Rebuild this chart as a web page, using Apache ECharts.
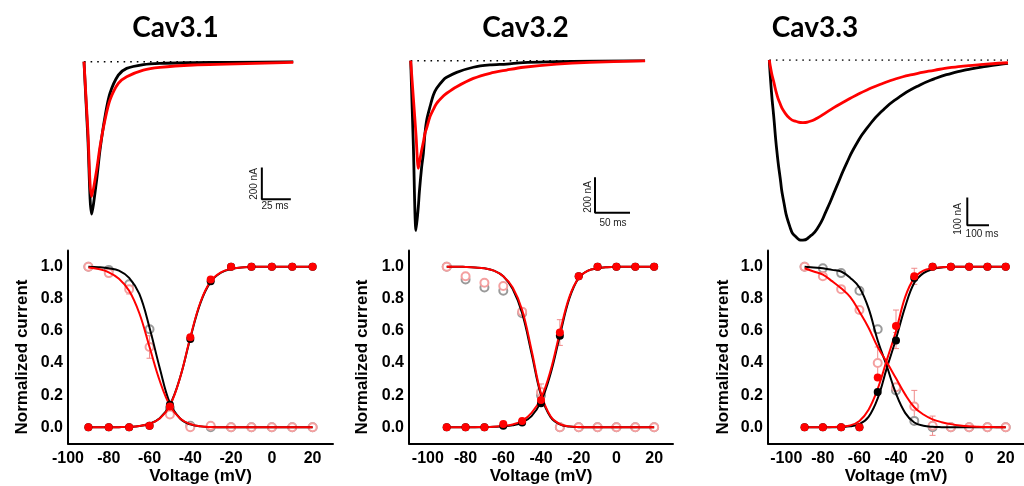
<!DOCTYPE html>
<html>
<head>
<meta charset="utf-8">
<title>Cav3 currents</title>
<script src="https://cdn.jsdelivr.net/npm/echarts@6/dist/echarts.min.js"></script>
<style>
  html, body { margin: 0; padding: 0; background: #fff; }
  #chart { width: 1024px; height: 486px; }
</style>
</head>
<body>
<div id="chart"></div>
<script>
const titles = ['Cav3.1', 'Cav3.2', 'Cav3.3'];

// voltage steps (mV) of the measured points and of the fitted curves
const stepV = [-90, -80, -70, -60, -50, -40, -30, -20, -10, 0, 10, 20];
const fitV = [-90, -85, -80, -75, -70, -65, -60, -55, -50, -45, -40, -35, -30, -25, -20, -15, -10, -5, 0, 5, 10, 15, 20];
const voltTicks = [-100, -80, -60, -40, -20, 0, 20];
const currentTicks = [0, 0.2, 0.4, 0.6, 0.8, 1.0];

// Cav3.1 - activation (filled) / inactivation (open)
const act31Black = [0, 0, 0, 0.01, 0.14, 0.55, 0.91, 1, 1, 1, 1, 1];
const act31Red = [0, 0, 0, 0.01, 0.13, 0.56, 0.92, 1, 1, 1, 1, 1];
const inact31Black = [1.0, 0.98, 0.89, 0.61, 0.12, 0.01, 0, 0, 0, 0, 0, 0];
const inact31Red = [1.0, 0.96, 0.86, 0.5, 0.08, 0, 0.01, 0, 0, 0, 0, 0];
const fitAct31Black = [0, 0, 0, 0.001, 0.003, 0.008, 0.022, 0.057, 0.14, 0.31, 0.555, 0.775, 0.905, 0.962, 0.986, 0.995, 0.998, 1, 1, 1, 1, 1, 1];
const fitAct31Red = [0, 0, 0, 0.001, 0.003, 0.008, 0.022, 0.055, 0.135, 0.31, 0.56, 0.78, 0.91, 0.965, 0.987, 0.995, 0.998, 1, 1, 1, 1, 1, 1];
const fitInact31Black = [1, 0.997, 0.99, 0.975, 0.93, 0.83, 0.62, 0.37, 0.15, 0.055, 0.018, 0.006, 0.002, 0, 0, 0, 0, 0, 0, 0, 0, 0, 0];
const fitInact31Red = [0.995, 0.985, 0.965, 0.925, 0.85, 0.71, 0.5, 0.29, 0.135, 0.055, 0.02, 0.007, 0.002, 0, 0, 0, 0, 0, 0, 0, 0, 0, 0];

// Cav3.2
const act32Black = [0, 0, 0, 0.01, 0.03, 0.15, 0.57, 0.94, 1, 1, 1, 1];
const act32Red = [0, 0, 0, 0.02, 0.04, 0.17, 0.59, 0.94, 1, 1, 1, 1];
const inact32Black = [1.0, 0.92, 0.87, 0.85, 0.71, 0.2, 0, 0, 0, 0, 0, 0];
const inact32Red = [1.0, 0.94, 0.9, 0.88, 0.72, 0.22, 0, 0, 0, 0, 0, 0];
const fitAct32Black = [0, 0, 0, 0, 0.001, 0.003, 0.006, 0.013, 0.03, 0.07, 0.16, 0.33, 0.57, 0.8, 0.93, 0.975, 0.99, 0.997, 1, 1, 1, 1, 1];
const fitAct32Red = [0, 0, 0, 0.001, 0.002, 0.004, 0.008, 0.018, 0.04, 0.09, 0.18, 0.35, 0.59, 0.81, 0.93, 0.975, 0.99, 0.997, 1, 1, 1, 1, 1];
const fitInact32Black = [1, 1, 0.998, 0.995, 0.99, 0.975, 0.94, 0.86, 0.71, 0.46, 0.2, 0.065, 0.018, 0.005, 0.001, 0, 0, 0, 0, 0, 0, 0, 0];
const fitInact32Red = [1, 1, 0.998, 0.995, 0.99, 0.975, 0.94, 0.87, 0.73, 0.48, 0.21, 0.07, 0.02, 0.006, 0.002, 0, 0, 0, 0, 0, 0, 0, 0];

// Cav3.3
const act33Black = [0, 0, 0, 0, 0.22, 0.54, 0.93, 1, 1, 1, 1, 1];
const act33Red = [0, 0, 0, 0, 0.31, 0.63, 0.94, 1, 1, 1, 1, 1];
const inact33Black = [1.0, 0.99, 0.96, 0.85, 0.61, 0.23, 0.04, 0, 0, 0, 0, 0];
const inact33Red = [1.0, 0.94, 0.86, 0.73, 0.4, 0.25, 0.13, 0.01, 0, 0, 0, 0];
const fitAct33Black = [0, 0, 0, 0, 0.002, 0.006, 0.02, 0.065, 0.18, 0.37, 0.55, 0.75, 0.9, 0.96, 0.985, 0.995, 1, 1, 1, 1, 1, 1, 1];
const fitAct33Red = [0, 0, 0, 0.002, 0.005, 0.012, 0.04, 0.11, 0.24, 0.42, 0.6, 0.81, 0.93, 0.975, 0.99, 0.997, 1, 1, 1, 1, 1, 1, 1];
const fitInact33Black = [1, 0.995, 0.99, 0.98, 0.97, 0.93, 0.87, 0.74, 0.54, 0.38, 0.21, 0.09, 0.03, 0.01, 0.003, 0.001, 0, 0, 0, 0, 0, 0, 0];
const fitInact33Red = [0.99, 0.97, 0.95, 0.91, 0.865, 0.81, 0.72, 0.62, 0.5, 0.405, 0.305, 0.205, 0.125, 0.08, 0.05, 0.032, 0.02, 0.012, 0.007, 0.004, 0.002, 0.001, 0];

// visible error bars: [voltage, mean, sem]
const err31 = [[-60, 0.5, 0.07], [-70, 0.86, 0.03]];
const err32 = [[-30, 0.59, 0.08], [-40, 0.22, 0.05]];
const err33 = [[-40, 0.63, 0.1], [-30, 0.94, 0.05], [-50, 0.4, 0.1], [-30, 0.13, 0.1], [-20, 0.01, 0.06], [-40, 0.54, 0.05]];

// current traces: time (ms) and current (nA)
const time31 = [0, 3.3, 6.6, 10.9, 13.8, 18.1, 22.4, 29.6, 36.8, 51.2, 65.5, 94.3, 123, 180.5];
const black31 = [0, -480, -964, -749, -559, -348, -200, -85, -42, -18, -10, -6, -4, 0];
const red31 = [0, -430, -854, -685, -538, -369, -242, -137, -95, -53, -36, -21, -15, -4];

const time32 = [0, 3.8, 7.6, 10.9, 12.4, 15.7, 18.1, 20.4, 22.9, 27.6, 32.4, 37.1, 46.6, 51.4, 65.7, 89.5, 113.3, 137.1, 161, 208.6, 256, 334.8];
const black32 = [0, -480, -960, -825, -740, -599, -523, -410, -335, -260, -194, -156, -109, -94, -66, -37, -24, -19, -11, -6, -2, 0];
const red32 = [0, -210, -420, -608, -575, -505, -460, -410, -380, -316, -275, -241, -200, -184, -147, -100, -71, -53, -37, -19, -9, -1];

const time33 = [0, 10, 20, 35, 50, 65, 95, 125, 155, 185, 220, 265, 310, 355, 400, 450, 525, 600, 680, 760, 840, 920, 1000, 1100];
const black33 = [0, -115, -200, -330, -425, -505, -602, -640, -650, -638, -610, -540, -457, -375, -305, -246, -180, -133, -96, -68, -48, -34, -23, -12];
const red33 = [0, -45, -77, -125, -158, -182, -211, -222, -226, -222, -210, -188, -166, -146, -127, -108, -84, -64, -49, -37, -27, -20, -15, -10];

// scale bars (time, current) and their labels
const bar31T = [153.4, 153.4, 178.4], bar31I = [-670, -870, -870];
const bar32T = [263.3, 263.3, 313.3], bar32I = [-659, -859, -859];
const bar33T = [912.4, 912.4, 1012.4], bar33I = [-496, -596, -596];
const barCurrentLabels = ['200 nA', '200 nA', '100 nA'];
const barTimeLabels = ['25 ms', '50 ms', '100 ms'];

function zip(xs, ys) { return xs.map((x, i) => [x, ys[i]]); }

const traces = [
  {time: time31, black: black31, red: red31, barT: bar31T, barI: bar31I, smooth: 0.3,
   grid: {left: 84, top: 61.7, width: 211, height: 158}, tMax: 182, iMin: -1000},
  {time: time32, black: black32, red: red32, barT: bar32T, barI: bar32I, smooth: 0.3,
   grid: {left: 410.7, top: 60.7, width: 234.5, height: 177}, tMax: 335, iMin: -1000},
  {time: time33, black: black33, red: red33, barT: bar33T, barI: bar33I, smooth: 0.6,
   grid: {left: 769.3, top: 60, width: 238.7, height: 194}, tMax: 1100, iMin: -700}
];

const ivPanels = [
  {left: 68, width: 265, vMin: -100, err: err31,
   act: [act31Black, act31Red], inact: [inact31Black, inact31Red],
   fitAct: [fitAct31Black, fitAct31Red], fitInact: [fitInact31Black, fitInact31Red]},
  {left: 409, width: 264, vMin: -110, err: err32,
   act: [act32Black, act32Red], inact: [inact32Black, inact32Red],
   fitAct: [fitAct32Black, fitAct32Red], fitInact: [fitInact32Black, fitInact32Red]},
  {left: 768, width: 264, vMin: -110, err: err33,
   act: [act33Black, act33Red], inact: [inact33Black, inact33Red],
   fitAct: [fitAct33Black, fitAct33Red], fitInact: [fitInact33Black, fitInact33Red]}
];

const axisFont = {fontFamily: 'Liberation Sans', fontWeight: 'bold', fontSize: 16, color: '#000'};
const nameFont = {fontFamily: 'Liberation Sans', fontWeight: 'bold', fontSize: 17, color: '#000'};
const RED = '#ff0000', BLACK = '#000000';

const grids = [], xAxes = [], yAxes = [], series = [], graphics = [];

traces.forEach((p, i) => {
  grids.push(Object.assign({}, p.grid));
  xAxes.push({type: 'value', gridIndex: i, min: 0, max: p.tMax, show: false});
  yAxes.push({type: 'value', gridIndex: i, min: p.iMin, max: 0, show: false});
  const common = {type: 'line', xAxisIndex: i, yAxisIndex: i, showSymbol: false, silent: true};
  series.push(Object.assign({}, common, {
    data: [[0, 0], [p.tMax, 0]],
    lineStyle: {color: BLACK, width: 1.6, type: [1.6, 5]}, z: 1
  }));
  series.push(Object.assign({}, common, {
    data: zip(p.time, p.black), smooth: p.smooth,
    lineStyle: {color: BLACK, width: 2.8}, z: 2
  }));
  series.push(Object.assign({}, common, {
    data: zip(p.time, p.red), smooth: p.smooth,
    lineStyle: {color: RED, width: 2.8}, z: 3
  }));
  series.push(Object.assign({}, common, {
    data: zip(p.barT, p.barI),
    lineStyle: {color: BLACK, width: 2}, z: 4
  }));
});

function renderErrorBar(params, api) {
  const v = api.value(0), m = api.value(1), s = api.value(2);
  const hi = api.coord([v, m + s]);
  const lo = api.coord([v, m - s]);
  const style = {stroke: '#f08a8a', lineWidth: 1};
  return {type: 'group', children: [
    {type: 'line', shape: {x1: hi[0], y1: hi[1], x2: lo[0], y2: lo[1]}, style: style},
    {type: 'line', shape: {x1: hi[0] - 3, y1: hi[1], x2: hi[0] + 3, y2: hi[1]}, style: style},
    {type: 'line', shape: {x1: lo[0] - 3, y1: lo[1], x2: lo[0] + 3, y2: lo[1]}, style: style}
  ]};
}

ivPanels.forEach((p, k) => {
  const i = k + 3;
  grids.push({left: p.left, top: 250.6, width: p.width, height: 192.8});
  xAxes.push({
    type: 'value', gridIndex: i, min: p.vMin, max: 30,
    name: 'Voltage (mV)', nameLocation: 'middle', nameGap: 24, nameTextStyle: nameFont,
    axisLine: {onZero: false, lineStyle: {color: BLACK, width: 2}},
    axisTick: {show: false},
    splitLine: {show: false},
    axisLabel: Object.assign({customValues: voltTicks, margin: 7}, axisFont)
  });
  yAxes.push({
    type: 'value', gridIndex: i, min: -0.1, max: 1.1,
    axisLine: {show: true, onZero: false, lineStyle: {color: BLACK, width: 2}},
    axisTick: {show: false},
    splitLine: {show: false},
    axisLabel: Object.assign({customValues: currentTicks, margin: 5,
      formatter: v => v.toFixed(1)}, axisFont)
  });
  const common = {xAxisIndex: i, yAxisIndex: i, silent: true};
  series.push(Object.assign({}, common, {
    type: 'custom', data: p.err, renderItem: renderErrorBar, z: 1
  }));
  // open symbols (inactivation)
  series.push(Object.assign({}, common, {
    type: 'scatter', data: zip(stepV, p.inact[0]), symbol: 'emptyCircle', symbolSize: 8,
    itemStyle: {color: '#9a9a9a', borderWidth: 1, opacity: 1}, z: 1
  }));
  series.push(Object.assign({}, common, {
    type: 'scatter', data: zip(stepV, p.inact[1]), symbol: 'emptyCircle', symbolSize: 8,
    itemStyle: {color: '#f4a0a0', borderWidth: 1, opacity: 1}, z: 1
  }));
  // fitted curves
  [[p.fitInact[0], BLACK], [p.fitAct[0], BLACK], [p.fitInact[1], RED], [p.fitAct[1], RED]].forEach(([vals, c]) => {
    series.push(Object.assign({}, common, {
      type: 'line', data: zip(fitV, vals), showSymbol: false, smooth: 0.4,
      lineStyle: {color: c, width: 2}, z: c === RED ? 3 : 2
    }));
  });
  // filled symbols (activation)
  series.push(Object.assign({}, common, {
    type: 'scatter', data: zip(stepV, p.act[0]), symbol: 'circle', symbolSize: 8,
    itemStyle: {color: BLACK, opacity: 1}, z: 4
  }));
  series.push(Object.assign({}, common, {
    type: 'scatter', data: zip(stepV, p.act[1]), symbol: 'circle', symbolSize: 8,
    itemStyle: {color: RED, opacity: 1}, z: 5
  }));
});

// panel titles
[[175.5, 28], [525.5, 28], [815, 28]].forEach(([x, y], k) => {
  graphics.push({type: 'text', x: x, y: y, style: {
    text: titles[k], fontFamily: 'Lato', fontWeight: 'bold', fontSize: 28, fill: '#000',
    align: 'center', verticalAlign: 'middle'}});
});
// y-axis titles
[22, 362, 723].forEach(x => {
  graphics.push({type: 'text', x: x, y: 357, rotation: Math.PI / 2, style: {
    text: 'Normalized current', fontFamily: 'Liberation Sans', fontWeight: 'bold', fontSize: 17,
    fill: '#000', align: 'center', verticalAlign: 'middle'}});
});
// scale bar labels
[[254, 184, 275, 206], [588, 197, 613, 223], [958, 219, 982, 234]].forEach(([cx, cy, tx, ty], k) => {
  graphics.push({type: 'text', x: cx, y: cy, rotation: Math.PI / 2, style: {
    text: barCurrentLabels[k], fontFamily: 'Liberation Sans', fontSize: 10, fill: '#222',
    align: 'center', verticalAlign: 'middle'}});
  graphics.push({type: 'text', x: tx, y: ty, style: {
    text: barTimeLabels[k], fontFamily: 'Liberation Sans', fontSize: 10, fill: '#222',
    align: 'center', verticalAlign: 'middle'}});
});

const chart = echarts.init(document.getElementById('chart'), null, {renderer: 'canvas'});
chart.setOption({
  backgroundColor: '#fff',
  animation: false,
  grid: grids,
  xAxis: xAxes,
  yAxis: yAxes,
  series: series,
  graphic: graphics
});
</script>
</body>
</html>
